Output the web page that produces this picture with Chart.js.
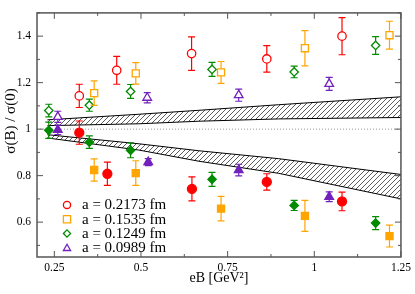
<!DOCTYPE html>
<html>
<head>
<meta charset="utf-8">
<script src="https://cdn.jsdelivr.net/npm/chart.js@4.4.1/dist/chart.umd.min.js"></script>
<style>
  html, body { margin: 0; padding: 0; background: #fff; }
</style>
</head>
<body>
<canvas id="chart" width="415" height="294"></canvas>
<script>
// tick labels
const xTicks = [0.25, 0.5, 0.75, 1, 1.25];
const xTickLabels = ['0.25', '0.5', '0.75', '1', '1.25'];
const yTicks = [0.6, 0.8, 1.0, 1.2, 1.4];
const yTickLabels = ['0.6', '0.8', '1', '1.2', '1.4'];

// a = 0.2173 fm
const redOpenX = [0.322, 0.43, 0.646, 0.863, 1.08];
const redOpenY = [1.143, 1.253, 1.325, 1.302, 1.40];
const redOpenErr = [0.05, 0.06, 0.072, 0.057, 0.08];
const redFillX = [0.322, 0.403, 0.647, 0.863, 1.08];
const redFillY = [0.985, 0.808, 0.743, 0.773, 0.689];
const redFillErr = [0.05, 0.05, 0.052, 0.035, 0.04];

// a = 0.1535 fm
const orangeX = [0.365, 0.485, 0.731, 0.973, 1.217];
const orangeOpenY = [1.155, 1.24, 1.244, 1.348, 1.404];
const orangeOpenErr = [0.053, 0.046, 0.047, 0.076, 0.06];
const orangeFillY = [0.824, 0.811, 0.658, 0.627, 0.54];
const orangeFillErr = [0.048, 0.053, 0.053, 0.067, 0.047];

// a = 0.1249 fm
const greenX = [0.234, 0.351, 0.47, 0.705, 0.942, 1.177];
const greenOpenY = [1.08, 1.103, 1.162, 1.257, 1.246, 1.36];
const greenOpenErr = [0.027, 0.026, 0.03, 0.03, 0.025, 0.038];
const greenFillY = [0.995, 0.944, 0.909, 0.784, 0.672, 0.596];
const greenFillErr = [0.035, 0.027, 0.032, 0.03, 0.022, 0.028];

// a = 0.0989 fm
const purpleOpenX = [0.26, 0.518, 0.782, 1.043];
const purpleOpenY = [1.053, 1.135, 1.146, 1.195];
const purpleOpenErr = [0.024, 0.022, 0.026, 0.028];
const purpleFillX = [0.26, 0.521, 0.782, 1.043];
const purpleFillY = [0.997, 0.858, 0.824, 0.709];
const purpleFillErr = [0.02, 0.015, 0.025, 0.021];

// continuum bands
const bandX = [0.23, 0.494, 0.667, 0.897, 1.25];
const upperHi = [1.04, 1.064, 1.081, 1.105, 1.139];
const upperLo = [1.015, 1.023, 1.034, 1.044, 1.05];
const lowerHi = [0.976, 0.937, 0.907, 0.873, 0.805];
const lowerLo = [0.962, 0.91, 0.862, 0.81, 0.70];

const legendLabels = ['a = 0.2173 fm', 'a = 0.1535 fm', 'a = 0.1249 fm', 'a = 0.0989 fm'];

const RED = '#ff0000', ORANGE = '#ffa500', GREEN = '#008b00', PURPLE = '#7221bc';
const legendColors = [RED, ORANGE, GREEN, PURPLE];
const legendStyles = ['circle', 'rect', 'rectRot', 'triangle'];

function pts(xs, ys) {
  return xs.map((x, i) => ({ x: x, y: ys[i] }));
}

// diagonal hatch for the bands
function hatch() {
  const c = document.createElement('canvas');
  c.width = 5; c.height = 5;
  const g = c.getContext('2d');
  g.strokeStyle = '#333';
  g.lineWidth = 0.8;
  g.beginPath();
  g.moveTo(0, 5); g.lineTo(5, 0);
  g.moveTo(-1, 1); g.lineTo(1, -1);
  g.moveTo(4, 6); g.lineTo(6, 4);
  g.stroke();
  return g.createPattern(c, 'repeat');
}
const pattern = hatch();

function series(xs, ys, errs, color, style, open, radius) {
  return {
    type: 'scatter',
    data: pts(xs, ys),
    errors: errs,
    pointStyle: style,
    pointRadius: radius,
    pointHoverRadius: radius,
    pointBorderWidth: 1.3,
    pointBorderColor: color,
    pointBackgroundColor: open ? '#fff' : color,
    borderColor: color,
    order: 0
  };
}

function bandLine(ys, fill) {
  return {
    type: 'line',
    data: pts(bandX, ys),
    borderColor: '#000',
    borderWidth: 1,
    pointRadius: 0,
    tension: 0,
    fill: fill,
    backgroundColor: pattern,
    order: 10
  };
}

// error bars drawn right before each dataset's markers
const errorBars = {
  id: 'errorBars',
  beforeDatasetDraw(chart, args) {
    const ds = chart.data.datasets[args.index];
    if (!ds.errors) return;
    const xs = chart.scales.x, ys = chart.scales.y;
    const ctx = chart.ctx;
    ctx.save();
    ctx.strokeStyle = ds.borderColor;
    ctx.lineWidth = 1.2;
    ds.data.forEach((p, i) => {
      const px = xs.getPixelForValue(p.x);
      const y1 = ys.getPixelForValue(p.y + ds.errors[i]);
      const y2 = ys.getPixelForValue(p.y - ds.errors[i]);
      ctx.beginPath();
      ctx.moveTo(px, y1); ctx.lineTo(px, y2);
      ctx.moveTo(px - 3.5, y1); ctx.lineTo(px + 3.5, y1);
      ctx.moveTo(px - 3.5, y2); ctx.lineTo(px + 3.5, y2);
      ctx.stroke();
    });
    ctx.restore();
  }
};

function marker(ctx, style, x, y, r) {
  ctx.beginPath();
  if (style === 'circle') {
    ctx.arc(x, y, r, 0, Math.PI * 2);
  } else if (style === 'rect') {
    ctx.rect(x - r, y - r, 2 * r, 2 * r);
  } else if (style === 'rectRot') {
    ctx.moveTo(x, y - r); ctx.lineTo(x + r, y); ctx.lineTo(x, y + r); ctx.lineTo(x - r, y); ctx.closePath();
  } else {
    ctx.moveTo(x, y - r); ctx.lineTo(x + r, y + r * 0.75); ctx.lineTo(x - r, y + r * 0.75); ctx.closePath();
  }
  ctx.stroke();
}

// frame, inward ticks, legend, y title
const decorations = {
  id: 'decorations',
  afterDraw(chart) {
    const ctx = chart.ctx;
    const { left, right, top, bottom } = chart.chartArea;
    const xs = chart.scales.x, ys = chart.scales.y;
    ctx.save();
    ctx.strokeStyle = '#555';
    ctx.lineWidth = 1.5;
    ctx.strokeRect(left, top, right - left, bottom - top);

    ctx.lineWidth = 1;
    ctx.beginPath();
    for (let v = 0.25; v <= 1.2501; v += 0.125) {
      const px = xs.getPixelForValue(v);
      const len = Math.abs((v / 0.25) - Math.round(v / 0.25)) < 1e-6 ? 6 : 3;
      ctx.moveTo(px, bottom); ctx.lineTo(px, bottom - len);
      ctx.moveTo(px, top); ctx.lineTo(px, top + len);
    }
    for (let v = 0.5; v <= 1.5001; v += 0.1) {
      const py = ys.getPixelForValue(v);
      const k = Math.round(v * 10);
      const len = k % 2 === 0 ? 6 : 3;
      ctx.moveTo(left, py); ctx.lineTo(left + len, py);
      ctx.moveTo(right, py); ctx.lineTo(right - len, py);
    }
    ctx.stroke();

    // legend
    ctx.font = '15px "Liberation Serif"';
    ctx.textBaseline = 'middle';
    ctx.textAlign = 'left';
    legendLabels.forEach((lab, i) => {
      const y = top + 192 + i * 14.3;
      ctx.strokeStyle = legendColors[i];
      ctx.lineWidth = 1.3;
      marker(ctx, legendStyles[i], left + 30, y, 3.6);
      ctx.fillStyle = '#000';
      ctx.fillText(lab, left + 45, y + 0.5);
    });

    // y axis title
    ctx.translate(11, 121);
    ctx.rotate(-Math.PI / 2);
    ctx.font = '15px "Liberation Serif"';
    ctx.textAlign = 'center';
    ctx.fillText('σ(B) / σ(0)', 0, 0);
    ctx.restore();
  }
};

const tickFont = { family: 'Liberation Serif', size: 11.5 };

new Chart(document.getElementById('chart').getContext('2d'), {
  type: 'scatter',
  data: {
    datasets: [
      series(redOpenX, redOpenY, redOpenErr, RED, 'circle', true, 4.2),
      series(redFillX, redFillY, redFillErr, RED, 'circle', false, 4.5),
      series(orangeX, orangeOpenY, orangeOpenErr, ORANGE, 'rect', true, 5),
      series(orangeX, orangeFillY, orangeFillErr, ORANGE, 'rect', false, 5),
      series(greenX, greenOpenY, greenOpenErr, GREEN, 'rectRot', true, 4.2),
      series(greenX, greenFillY, greenFillErr, GREEN, 'rectRot', false, 4.2),
      series(purpleOpenX, purpleOpenY, purpleOpenErr, PURPLE, 'triangle', true, 5),
      series(purpleFillX, purpleFillY, purpleFillErr, PURPLE, 'triangle', false, 5),
      bandLine(upperLo, false),
      bandLine(upperHi, '-1'),
      bandLine(lowerLo, false),
      bandLine(lowerHi, '-1'),
      {
        type: 'line',
        data: [{ x: 0.2, y: 1 }, { x: 1.25, y: 1 }],
        borderColor: '#999',
        borderWidth: 1,
        borderDash: [1, 2],
        pointRadius: 0,
        fill: false,
        order: 11
      }
    ]
  },
  options: {
    responsive: false,
    animation: false,
    layout: { padding: { top: 1, right: 12, left: 0, bottom: 0 } },
    plugins: {
      legend: { display: false },
      tooltip: { enabled: false }
    },
    scales: {
      x: {
        type: 'linear',
        min: 0.2,
        max: 1.25,
        afterBuildTicks: s => { s.ticks = xTicks.map(v => ({ value: v })); },
        afterFit: s => { s.height = 37; },
        grid: { display: false, drawTicks: false },
        border: { display: false },
        ticks: {
          callback: (v, i) => xTickLabels[i],
          font: tickFont,
          color: '#000',
          padding: 4,
          maxRotation: 0,
          autoSkip: false
        },
        title: {
          display: true,
          text: 'eB [GeV²]',
          font: { family: 'Liberation Serif', size: 14 },
          color: '#000',
          padding: { top: 0, bottom: 7 }
        }
      },
      y: {
        type: 'linear',
        min: 0.45,
        max: 1.5,
        afterBuildTicks: s => { s.ticks = yTicks.map(v => ({ value: v })); },
        afterFit: s => { s.width = 37; },
        grid: { display: false, drawTicks: false },
        border: { display: false },
        ticks: {
          callback: (v, i) => yTickLabels[i],
          font: tickFont,
          color: '#000',
          padding: 6,
          autoSkip: false
        }
      }
    }
  },
  plugins: [errorBars, decorations]
});
</script>
</body>
</html>
